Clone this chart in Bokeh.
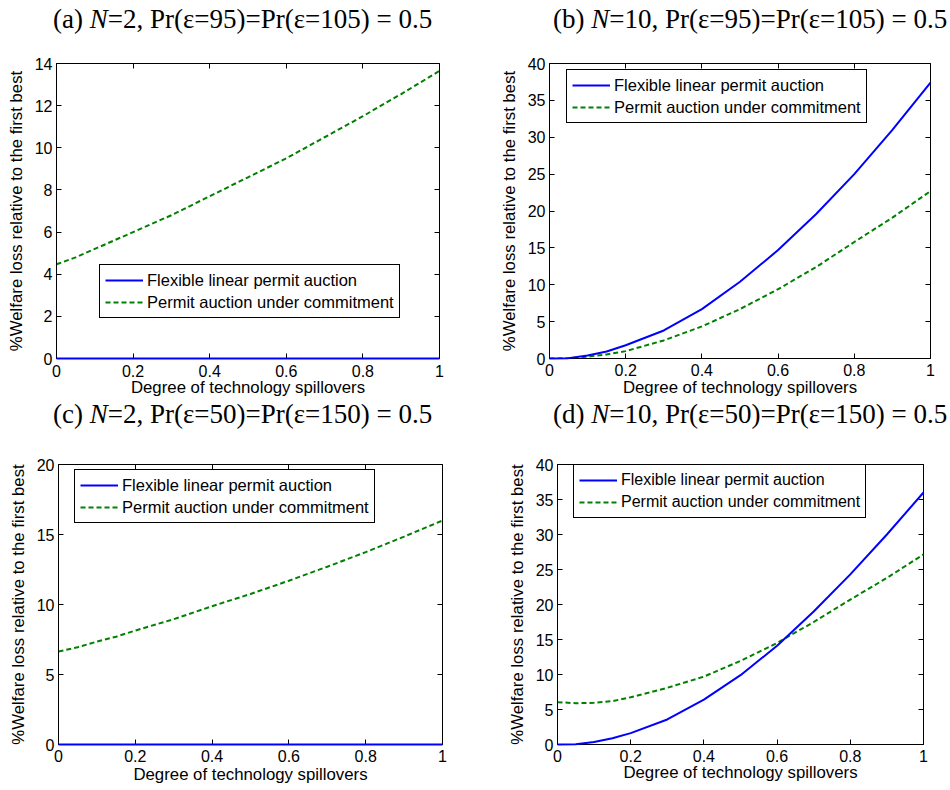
from bokeh.plotting import figure
from bokeh.models import (Range1d, FixedTicker, LinearAxis, Legend,
                          LegendItem, CustomJSTickFormatter, Div)
from bokeh.layouts import row, column
from bokeh.embed import file_html
from bokeh.resources import INLINE

# ---------------- data ----------------
spillover = [0, 0.05, 0.1, 0.15, 0.2, 0.3, 0.4, 0.5, 0.6, 0.7, 0.8, 0.9, 1.0]

a_flexible = [0, 0, 0, 0, 0, 0, 0, 0, 0, 0, 0, 0, 0]
a_commit = [4.47, 4.8, 5.2, 5.6, 6.0, 6.8, 7.7, 8.6, 9.5, 10.5, 11.5, 12.55, 13.65]

b_flexible = [0, 0.05, 0.4, 0.95, 1.8, 3.8, 6.7, 10.4, 14.7, 19.6, 25.0, 31.0, 37.4]
b_commit = [0, 0.03, 0.25, 0.55, 1.0, 2.45, 4.35, 6.7, 9.4, 12.4, 15.8, 19.1, 22.7]

c_flexible = [0, 0, 0, 0, 0, 0, 0, 0, 0, 0, 0, 0, 0]
c_commit = [6.64, 6.95, 7.35, 7.7, 8.14, 8.95, 9.88, 10.75, 11.7, 12.7, 13.74, 14.85, 16.0]

d_flexible = [0, 0.05, 0.35, 0.9, 1.63, 3.58, 6.4, 9.9, 14.1, 19.0, 24.3, 30.0, 36.0]
d_commit = [6.05, 5.9, 5.95, 6.2, 6.75, 8.1, 9.7, 11.95, 14.5, 17.5, 20.7, 23.8, 27.15]

x_ticks = [0, 0.2, 0.4, 0.6, 0.8, 1]
x_tick_labels = ["0", "0.2", "0.4", "0.6", "0.8", "1"]
a_yticks = [0, 2, 4, 6, 8, 10, 12, 14]
b_yticks = [0, 5, 10, 15, 20, 25, 30, 35, 40]
c_yticks = [0, 5, 10, 15, 20]
d_yticks = [0, 5, 10, 15, 20, 25, 30, 35, 40]

series_names = ["Flexible linear permit auction", "Permit auction under commitment"]
x_label = "Degree of technology spillovers"
y_label = "%Welfare loss relative to the first best"

a_title = "(a) <i>N</i>=2, Pr(\u03b5=95)=Pr(\u03b5=105) = 0.5"
b_title = "(b) <i>N</i>=10, Pr(\u03b5=95)=Pr(\u03b5=105) = 0.5"
c_title = "(c) <i>N</i>=2, Pr(\u03b5=50)=Pr(\u03b5=150) = 0.5"
d_title = "(d) <i>N</i>=10, Pr(\u03b5=50)=Pr(\u03b5=150) = 0.5"

# ---------------- styling ----------------
BLUE = "#0000ff"
GREEN = "#008000"
SANS = "Liberation Sans"
SERIF = "Liberation Serif"


def make_title(text, w, h, pad_left, line_h):
    return Div(text=text, width=w, height=h, margin=0,
               styles={"font-family": SERIF, "font-size": "27px",
                       "line-height": f"{line_h}px", "padding-left": f"{pad_left}px",
                       "white-space": "nowrap", "color": "black",
                       "overflow": "visible", "box-sizing": "border-box"})


def make_panel(w, h, borders, ymax, yticks, flex, commit, legend_xy,
               legend_font, xtick_standoff, xlab_standoff):
    l, r, t, b = borders
    p = figure(width=w, height=h, output_backend="svg", toolbar_location=None,
               x_range=Range1d(0, 1), y_range=Range1d(0, ymax),
               min_border_left=l, min_border_right=r,
               min_border_top=t, min_border_bottom=b,
               x_axis_label=x_label, y_axis_label=y_label)
    p.grid.visible = False
    p.outline_line_color = "black"
    p.outline_line_width = 1
    p.background_fill_color = "white"
    p.border_fill_color = "white"

    p.xaxis.ticker = FixedTicker(ticks=x_ticks)
    p.xaxis.major_label_overrides = dict(zip(x_ticks, x_tick_labels))
    p.yaxis.ticker = FixedTicker(ticks=yticks)
    for ax in (p.xaxis[0], p.yaxis[0]):
        ax.major_tick_in = 5
        ax.major_tick_out = 0
        ax.minor_tick_line_color = None
        ax.axis_line_color = "black"
        ax.major_tick_line_color = "black"
        ax.major_label_text_font = SANS
        ax.major_label_text_font_size = "16px"
        ax.major_label_text_color = "black"
        ax.axis_label_text_font = SANS
        ax.axis_label_text_font_size = "16.8px"
        ax.axis_label_text_font_style = "normal"
        ax.axis_label_text_color = "black"
    p.yaxis[0].major_label_standoff = 4
    p.yaxis[0].axis_label_standoff = 6
    p.xaxis[0].major_label_standoff = xtick_standoff
    p.xaxis[0].axis_label_standoff = xlab_standoff

    # box ticks on top and right (no labels)
    top = LinearAxis(ticker=FixedTicker(ticks=x_ticks),
                     formatter=CustomJSTickFormatter(code="return ''"))
    right = LinearAxis(ticker=FixedTicker(ticks=yticks),
                       formatter=CustomJSTickFormatter(code="return ''"))
    for ax in (top, right):
        ax.major_tick_in = 5
        ax.major_tick_out = 0
        ax.minor_tick_line_color = None
        ax.axis_line_color = None
        ax.major_tick_line_color = "black"
        ax.major_label_text_color = None
        ax.major_label_standoff = 0
        ax.major_label_text_font_size = "1px"
    p.add_layout(top, "above")
    p.add_layout(right, "right")

    r1 = p.line(spillover, flex, line_color=BLUE, line_width=2, level="overlay")
    r2 = p.line(spillover, commit, line_color=GREEN, line_width=2, line_dash="5 3")

    leg = Legend(items=[LegendItem(label=series_names[0], renderers=[r1]),
                        LegendItem(label=series_names[1], renderers=[r2])],
                 location=legend_xy)
    leg.label_text_font = SANS
    leg.label_text_font_size = legend_font
    leg.label_text_color = "black"
    leg.border_line_color = "black"
    leg.border_line_width = 1
    leg.border_line_alpha = 1
    leg.background_fill_color = "white"
    leg.background_fill_alpha = 1
    leg.padding = 5
    leg.spacing = 2
    leg.margin = 0
    leg.glyph_width = 38
    leg.glyph_height = 20
    leg.label_standoff = 4
    leg.label_height = 20
    p.add_layout(leg)
    return p


ta = make_title(a_title, 480, 38, 53, 38)
tb = make_title(b_title, 470, 38, 73, 38)
tc = make_title(c_title, 480, 30, 53, 28)
td = make_title(d_title, 470, 30, 73, 28)

pa = make_panel(480, 362, (56, 41, 23, 42), 14, a_yticks, a_flexible, a_commit,
                (43, 40), "16.5px", 6, -2)
pb = make_panel(470, 362, (69, 20, 25, 41), 40, b_yticks, b_flexible, b_commit,
                (17, 235), "16.5px", 5, -1)
pc = make_panel(480, 360, (58, 38, 34, 46), 20, c_yticks, c_flexible, c_commit,
                (16, 221), "16.5px", 5, 0)
pd = make_panel(470, 360, (77, 27, 30, 44), 40, d_yticks, d_flexible, d_commit,
                (16, 226), "16px", 5, -2)

layout = column(row(ta, tb), row(pa, pb), row(tc, td), row(pc, pd))

open("out.html", "w").write(file_html(layout, INLINE))
